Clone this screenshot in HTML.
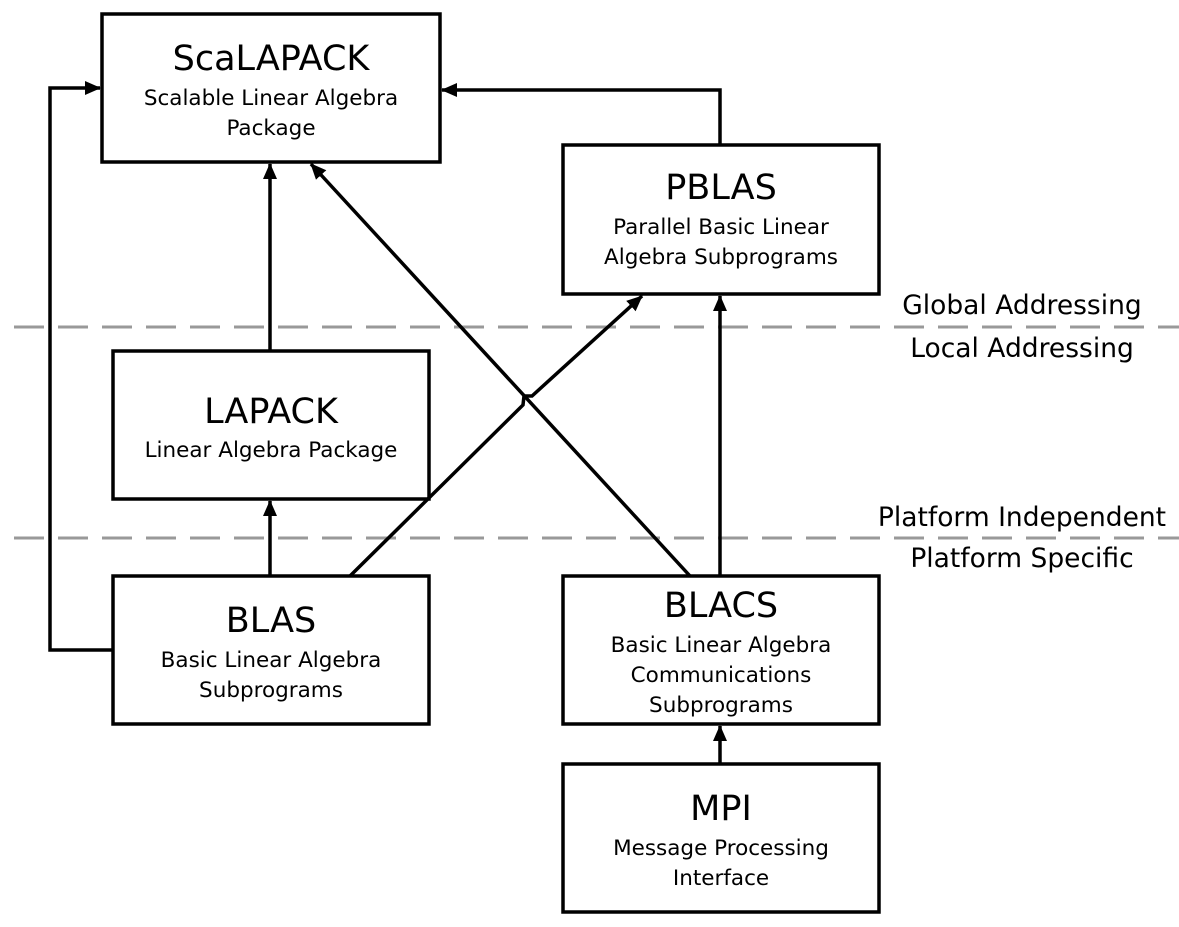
<!DOCTYPE html>
<html><head><meta charset="utf-8"><style>
html,body{margin:0;padding:0;background:#fff;}
svg{display:block;}
text{font-family:"DejaVu Sans","Liberation Sans",sans-serif;fill:#000;text-anchor:middle;}
.t{font-size:35px;}
.s{font-size:21.5px;}
.r{font-size:26.5px;text-anchor:middle;}
</style></head><body>
<svg width="1179" height="927" viewBox="0 0 1179 927" xmlns="http://www.w3.org/2000/svg">
<defs>
<marker id="b" markerWidth="16" markerHeight="16" refX="15" refY="8" orient="auto" markerUnits="userSpaceOnUse" viewBox="0 0 16 16">
<path d="M0,1 L16,8 L0,15 z" fill="#000"/>
</marker>
</defs>
<g stroke="#999" stroke-width="3" stroke-dasharray="30,14" fill="none">
<line x1="14" y1="327" x2="1179" y2="327"/>
<line x1="14" y1="538" x2="1179" y2="538"/>
</g>
<g stroke="#000" stroke-width="3.5" fill="#fff">
<rect x="102" y="14" width="338" height="148"/>
<rect x="563" y="145" width="316" height="149"/>
<rect x="113" y="351" width="316" height="148"/>
<rect x="113" y="576" width="316" height="148"/>
<rect x="563" y="576" width="316" height="148"/>
<rect x="563" y="764" width="316" height="148"/>
</g>
<g stroke="#000" stroke-width="3.5" fill="none">
<line x1="270" y1="350" x2="270" y2="164" marker-end="url(#b)"/>
<line x1="270" y1="575" x2="270" y2="501" marker-end="url(#b)"/>
<polyline points="112,650 50,650 50,88 100,88" marker-end="url(#b)"/>
<polyline points="720,144 720,90 442,90" marker-end="url(#b)"/>
<line x1="720" y1="575" x2="720" y2="296" marker-end="url(#b)"/>
<line x1="720" y1="763" x2="720" y2="726" marker-end="url(#b)"/>
<polyline points="350,576 523,405 524,396 532,396 642,296" marker-end="url(#b)"/>
<line x1="690" y1="576" x2="311" y2="164" marker-end="url(#b)"/>
</g>
<text class="t" x="271" y="70">ScaLAPACK</text>
<text class="s" x="271" y="105">Scalable Linear Algebra</text>
<text class="s" x="271" y="135">Package</text>
<text class="t" x="721" y="199">PBLAS</text>
<text class="s" x="721" y="234">Parallel Basic Linear</text>
<text class="s" x="721" y="264">Algebra Subprograms</text>
<text class="t" x="271" y="423">LAPACK</text>
<text class="s" x="271" y="457">Linear Algebra Package</text>
<text class="t" x="271" y="632">BLAS</text>
<text class="s" x="271" y="667">Basic Linear Algebra</text>
<text class="s" x="271" y="697">Subprograms</text>
<text class="t" x="721" y="617">BLACS</text>
<text class="s" x="721" y="652">Basic Linear Algebra</text>
<text class="s" x="721" y="682">Communications</text>
<text class="s" x="721" y="712">Subprograms</text>
<text class="t" x="721" y="820">MPI</text>
<text class="s" x="721" y="855">Message Processing</text>
<text class="s" x="721" y="885">Interface</text>
<text class="r" x="1022" y="314">Global Addressing</text>
<text class="r" x="1022" y="357">Local Addressing</text>
<text class="r" x="1022" y="526">Platform Independent</text>
<text class="r" x="1022" y="567">Platform Specific</text>
</svg>
</body></html>
